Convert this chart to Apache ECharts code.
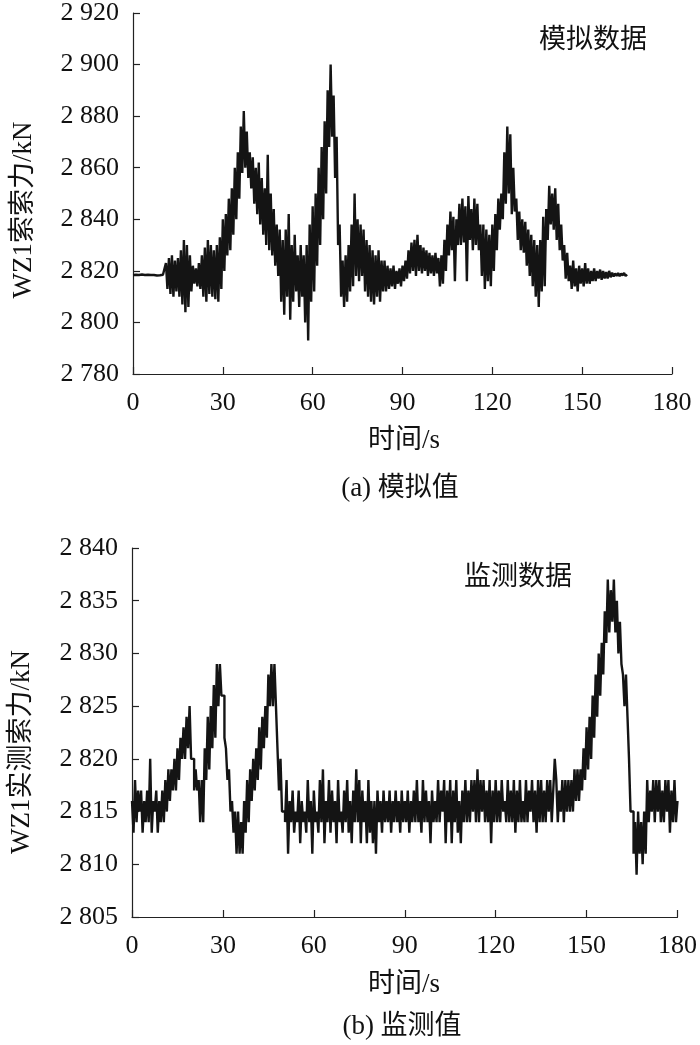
<!DOCTYPE html>
<html>
<head>
<meta charset="utf-8">
<script src="https://cdn.jsdelivr.net/npm/echarts@6/dist/echarts.min.js"></script>
<style>
  html, body { margin: 0; padding: 0; background: #fff; }
  #main { width: 700px; height: 1045px; }
</style>
</head>
<body>
<div id="main"></div>
<script>
// sampling interval of both records, s
var step = 0.5;

// (a) simulated cable force, kN, from t = 0 s to 165 s
var simForce = [
  2818.4,2818.2,2818.5,2818.3,2818.4,2818.2,2818.6,2818.3,2818.4,2818.2,
  2818.5,2818.3,2818.4,2818.2,2818.4,2818.6,2818.2,2818.4,2818.3,2818.5,
  2818.5,2819,2823,2813,2825,2811,2826,2810,2824,2812,
  2825,2810,2828,2807,2832,2804,2830,2806,2826,2812,
  2822,2815,2821,2814,2823,2813,2826,2810,2829,2808,
  2832,2811,2830,2810,2828,2809,2830,2808,2833,2813,
  2840,2820,2842,2826,2848,2828,2852,2834,2860,2840,
  2866,2848,2876,2858,2882,2860,2874,2856,2866,2852,
  2864,2846,2860,2842,2862,2838,2856,2834,2852,2830,
  2865,2828,2850,2826,2844,2822,2838,2818,2836,2808,
  2832,2803,2836,2810,2842,2801,2830,2808,2834,2812,
  2826,2806,2830,2810,2826,2800,2830,2793,2838,2808,
  2845,2812,2850,2822,2860,2830,2868,2840,2878,2850,
  2890,2868,2900,2872,2888,2856,2872,2830,2838,2810,
  2824,2806,2826,2808,2830,2812,2838,2814,2850,2818,
  2840,2816,2838,2818,2836,2812,2832,2810,2830,2808,
  2828,2807,2826,2810,2828,2808,2824,2812,2824,2812,
  2822,2813,2821,2814,2822,2813,2820,2815,2821,2814,
  2822,2816,2824,2817,2828,2819,2831,2820,2832,2818,
  2834,2820,2830,2819,2829,2820,2828,2818,2827,2819,
  2826,2818,2827,2819,2825,2814,2826,2815,2832,2820,
  2838,2826,2843,2828,2841,2816,2840,2830,2846,2830,
  2848,2831,2845,2816,2849,2832,2844,2828,2848,2830,
  2846,2828,2838,2818,2838,2813,2836,2816,2834,2814,
  2838,2820,2842,2828,2848,2836,2850,2840,2866,2846,
  2876,2850,2873,2842,2860,2843,2848,2832,2843,2828,
  2840,2827,2839,2822,2836,2818,2834,2814,2832,2810,
  2830,2806,2832,2812,2841,2814,2844,2832,2853,2838,
  2850,2836,2852,2832,2846,2828,2838,2824,2830,2817,
  2827,2816,2822,2813,2824,2814,2821,2812,2822,2815,
  2821,2814,2823,2815,2821,2815,2820,2816,2821,2816,
  2820,2817,2820.5,2816.5,2820,2817,2819.5,2817,2820,2817.5,
  2819.3,2817.8,2819,2818,2819.2,2817.9,2819,2818.2,2819.2,2818,
  2818.6
];

// (b) measured cable force, kN, from t = 0 s to 180 s
var measForce = [
  2816,2813,2818,2814,2817,2815,2817,2813,2816,2814,
  2817,2814,2820,2813,2816,2815,2817,2813,2816,2814,
  2817,2814,2818,2815,2819,2816,2819,2817,2820,2817,
  2821,2818,2822,2820,2823,2820,2824,2821,2825,2820,
  2820,2817,2819,2817,2818,2814,2818,2814,2821,2818,
  2824,2819,2825,2821,2827,2822,2829,2825,2829,2826,
  2826,2822,2821,2818,2819,2815,2816,2813,2815,2811,
  2815,2811,2814,2811,2816,2813,2818,2814,2819,2816,
  2820,2817,2821,2818,2823,2819,2824,2821,2825,2822,
  2828,2825,2829,2825,2829,2825,2821,2817,2820,2815,
  2815,2814,2818,2811,2816,2814,2817,2813,2815,2814,
  2817,2812,2816,2814,2815,2813,2818,2814,2816,2811,
  2817,2814,2815,2813,2818,2814,2819,2812,2816,2814,
  2818,2813,2817,2814,2816,2812,2818,2814,2815,2813,
  2817,2814,2818,2813,2816,2812,2817,2814,2819,2814,
  2818,2812,2817,2814,2816,2812,2818,2813,2816,2812,
  2816,2811,2817,2814,2816,2813,2817,2814,2816,2814,
  2817,2813,2816,2814,2817,2814,2816,2813,2817,2814,
  2816,2814,2817,2813,2816,2814,2817,2814,2818,2814,
  2816,2813,2818,2814,2817,2814,2816,2812,2817,2814,
  2816,2814,2818,2814,2817,2815,2818,2812,2817,2814,
  2818,2812,2817,2814,2818,2813,2816,2812,2817,2814,
  2818,2814,2817,2814,2818,2815,2818,2814,2819,2814,
  2818,2815,2818,2814,2817,2814,2818,2812,2817,2814,
  2818,2814,2817,2814,2818,2815,2816,2814,2818,2814,
  2817,2814,2818,2813,2817,2814,2818,2814,2816,2814,
  2818,2814,2817,2815,2818,2814,2817,2813,2818,2814,
  2818,2814,2817,2814,2818,2815,2818,2814,2817,2820,
  2818,2814,2817,2815,2818,2814,2818,2815,2818,2815,
  2818,2815,2819,2816,2819,2816,2819,2817,2821,2818,
  2823,2819,2824,2820,2826,2822,2828,2824,2830,2826,
  2831,2828,2834,2831,2837,2832,2836,2833,2837,2832,
  2835,2830,2833,2829,2828,2825,2828,2824,2820,2815,
  2815,2811,2814,2809,2815,2811,2814,2810,2815,2811,
  2818,2814,2817,2815,2818,2814,2818,2815,2818,2814,
  2817,2814,2818,2815,2818,2813,2817,2814,2818,2814,
  2816
];

var xTicks = [0, 30, 60, 90, 120, 150, 180];
var simTicks = [2780, 2800, 2820, 2840, 2860, 2880, 2900, 2920];
var measTicks = [2805, 2810, 2815, 2820, 2825, 2830, 2835, 2840];

var serif = '"Liberation Serif", "Times New Roman", "Noto Sans CJK SC", serif';

function pairs(vals) {
  return vals.map(function (v, i) { return [i * step, v]; });
}
function thousands(v) {
  return String(v).replace(/\B(?=(\d{3})+$)/, ' ');
}

var axisLine = { lineStyle: { color: '#222', width: 1.2 } };
var axisTick = { inside: true, length: 7, lineStyle: { color: '#222', width: 1.2 } };

function xAxis(grid) {
  return {
    type: 'value', gridIndex: grid,
    min: xTicks[0], max: xTicks[xTicks.length - 1], interval: 30,
    axisLine: axisLine, axisTick: axisTick, splitLine: { show: false },
    axisLabel: { color: '#111', fontFamily: serif, fontSize: 26, margin: 16 }
  };
}
function yAxis(grid, ticks) {
  return {
    type: 'value', gridIndex: grid,
    min: ticks[0], max: ticks[ticks.length - 1], interval: ticks[1] - ticks[0],
    axisLine: Object.assign({ show: true }, axisLine), axisTick: axisTick,
    splitLine: { show: false },
    axisLabel: { color: '#111', fontFamily: serif, fontSize: 26, margin: 14, formatter: thousands }
  };
}
function label(text, x, y, size, rotate) {
  return {
    type: 'text', x: x, y: y, rotation: rotate ? Math.PI / 2 : 0,
    style: { text: text, fill: '#111', font: size + 'px ' + serif, align: 'center', verticalAlign: 'middle' }
  };
}

var myChart = echarts.init(document.getElementById('main'));

var option = {
  animation: false,
  backgroundColor: '#fff',
  grid: [
    { left: 133, right: 28, top: 7, bottom: 671 },
    { left: 132, right: 18, top: 548, bottom: 128 }
  ],
  xAxis: [xAxis(0), xAxis(1)],
  yAxis: [yAxis(0, simTicks), yAxis(1, measTicks)],
  series: [
    {
      type: 'line', xAxisIndex: 0, yAxisIndex: 0, data: pairs(simForce),
      showSymbol: false, lineStyle: { color: '#141414', width: 2.4 }
    },
    {
      type: 'line', xAxisIndex: 1, yAxisIndex: 1, data: pairs(measForce), step: 'end',
      showSymbol: false, lineStyle: { color: '#141414', width: 2.4 }
    }
  ],
  graphic: [
    label('WZ1索索力/kN', 24, 210, 27, true),
    label('时间/s', 404, 441, 27),
    label('(a) 模拟值', 400, 489, 27),
    label('模拟数据', 593, 41, 27),
    label('WZ1实测索力/kN', 22, 752, 27, true),
    label('时间/s', 404, 985, 27),
    label('(b) 监测值', 402, 1027, 27),
    label('监测数据', 518, 578, 27)
  ]
};

myChart.setOption(option);
</script>
</body>
</html>
